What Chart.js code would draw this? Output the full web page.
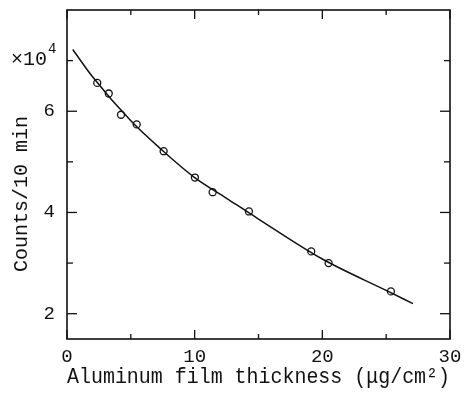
<!DOCTYPE html>
<html><head><meta charset="utf-8">
<script src="https://cdn.jsdelivr.net/npm/chart.js@4"></script>
<style>html,body{margin:0;padding:0;background:#fff}#w{width:465px;height:396px}</style>
</head><body><div id="w"><canvas id="c" width="465" height="396"></canvas></div>
<script>
// measured points
const thickness = [2.37, 3.27, 4.23, 5.46, 7.57, 10.02, 11.41, 14.25, 19.13, 20.49, 25.37];
const counts    = [6.56, 6.35, 5.93, 5.74, 5.21, 4.69, 4.40, 4.02, 3.23, 3.00, 2.44];
// fitted curve
const curveX = [0.45, 2, 5, 7.5, 10, 12.5, 15, 20, 25, 27.1];
const curveY = [7.22, 6.68, 5.81, 5.22, 4.69, 4.28, 3.87, 3.08, 2.46, 2.20];
const xTickLabels = [0, 10, 20, 30];
const xMinorTicks = [5, 15, 25];
const yTickLabels = [2, 4, 6];
const yMinorTicks = [3, 5, 7];
const xTitle = 'Aluminum film thickness (\u03bcg/cm\u00b2)';
const yTitle = 'Counts/10 min';

const FONT = '"Liberation Mono", "DejaVu Sans Mono", monospace';
const INK = '#111';

const framePlugin = {
  id: 'frame',
  afterDraw(chart) {
    const {ctx, chartArea: a, scales: {x, y}} = chart;
    ctx.save();
    ctx.strokeStyle = INK; ctx.lineWidth = 1.6;
    ctx.strokeRect(a.left, a.top, a.right - a.left, a.bottom - a.top);
    ctx.lineWidth = 1.3;
    const vt = (v, len) => {
      const px = x.getPixelForValue(v);
      ctx.beginPath(); ctx.moveTo(px, a.bottom); ctx.lineTo(px, a.bottom - len); ctx.stroke();
      ctx.beginPath(); ctx.moveTo(px, a.top); ctx.lineTo(px, a.top + len); ctx.stroke();
    };
    const ht = (v, len) => {
      const py = y.getPixelForValue(v);
      ctx.beginPath(); ctx.moveTo(a.left, py); ctx.lineTo(a.left + len, py); ctx.stroke();
      ctx.beginPath(); ctx.moveTo(a.right, py); ctx.lineTo(a.right - len, py); ctx.stroke();
    };
    xTickLabels.forEach(v => vt(v, 9));
    xMinorTicks.forEach(v => vt(v, 5));
    yTickLabels.forEach(v => ht(v, 10));
    yMinorTicks.forEach(v => ht(v, 6));
    // y title
    ctx.fillStyle = INK;
    ctx.font = '20px ' + FONT;
    ctx.textAlign = 'center'; ctx.textBaseline = 'middle';
    ctx.translate(22, 194); ctx.rotate(-Math.PI / 2);
    ctx.fillText(yTitle, 0, 0);
    ctx.restore();
    // multiplier
    ctx.save();
    ctx.fillStyle = INK;
    ctx.textAlign = 'left'; ctx.textBaseline = 'alphabetic';
    ctx.font = '20px ' + FONT;
    ctx.fillText('\u00d710', 11, 65);
    ctx.font = '14px ' + FONT;
    ctx.fillText('4', 48, 53);
    ctx.restore();
  }
};

new Chart(document.getElementById('c'), {
  type: 'scatter',
  data: {
    datasets: [
      {
        data: curveX.map((v, i) => ({x: v, y: curveY[i]})),
        showLine: true, borderColor: INK, borderWidth: 1.5, pointRadius: 0,
        cubicInterpolationMode: 'monotone', fill: false
      },
      {
        data: thickness.map((v, i) => ({x: v, y: counts[i]})),
        showLine: false, pointRadius: 3.5, pointBorderWidth: 1.3,
        pointBorderColor: INK, pointBackgroundColor: 'rgba(255,255,255,0)'
      }
    ]
  },
  options: {
    responsive: false, animation: false, events: [],
    layout: {padding: {top: 10, right: 15, left: 0, bottom: 0}},
    plugins: {legend: {display: false}, tooltip: {enabled: false}},
    scales: {
      x: {
        type: 'linear', min: 0, max: 30,
        afterBuildTicks: s => { s.ticks = xTickLabels.map(v => ({value: v})); },
        afterFit: s => { s.height = 57; s.paddingLeft = 0; s.paddingRight = 0; },
        grid: {display: false, drawTicks: false},
        border: {display: false},
        ticks: {color: INK, padding: 7, maxRotation: 0, font: {family: FONT, size: 19}},
        title: {display: true, text: xTitle, color: INK, padding: {top: 0, bottom: 6}, font: {family: FONT, size: 22}}
      },
      y: {
        type: 'linear', min: 1.5, max: 8,
        afterBuildTicks: s => { s.ticks = yTickLabels.map(v => ({value: v})); },
        afterFit: s => { s.width = 67; s.paddingTop = 0; s.paddingBottom = 0; },
        grid: {display: false, drawTicks: false},
        border: {display: false},
        ticks: {color: INK, padding: 12, font: {family: FONT, size: 19}}
      }
    }
  },
  plugins: [framePlugin]
});
</script></body></html>
